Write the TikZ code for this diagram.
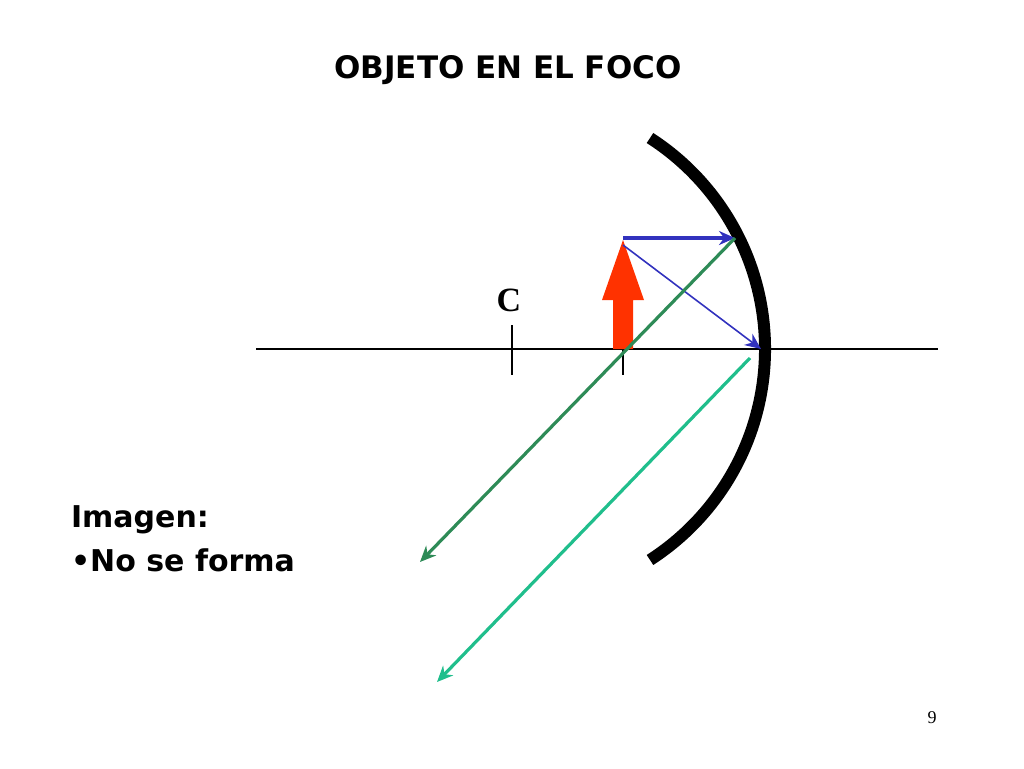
\documentclass[tikz,border=0pt]{standalone}
\usepackage{fontspec}
\setmainfont{DejaVu Sans}
\newfontfamily\serifbold{Liberation Serif}
\usetikzlibrary{arrows.meta}
\definecolor{raydark}{RGB}{46,139,87}
\definecolor{raylight}{RGB}{32,190,140}
\definecolor{rayblue}{RGB}{50,50,190}
\definecolor{objred}{RGB}{255,50,0}
\tikzset{
	ray/.style={line width=1.6pt, -{Stealth[length=8pt,width=7pt]}},
	tick/.style={line width=0.6pt},
	label/.style={font=\bfseries\fontsize{15}{18}\selectfont, anchor=west}
}
\begin{document}
\begin{tikzpicture}[x=0.5pt,y=-0.5pt]
	\useasboundingbox (0,0) rectangle (1024,768);
	\node[font=\bfseries\fontsize{15.5}{18}\selectfont] (title) at (508,70) {OBJETO EN EL FOCO};
	% eje y marcas
	\coordinate (axl) at (256,349);
	\coordinate (axr) at (938,349);
	\draw[tick] (axl) -- (axr);
	\draw[tick] (512,325) -- (512,375);
	\draw[tick] (623,349) -- (623,375);
	\node[font=\serifbold\bfseries\fontsize{17}{18}\selectfont] (C) at (509,300) {C};
	% espejo
	\draw[line width=6pt] (650,138) arc[start angle=-57.2, end angle=57.2, radius=251];
	% objeto
	\fill[objred] (613,349) -- (613,300) -- (602,300) -- (623,240) -- (644,300) -- (633,300) -- (633,349) -- cycle;
	% rayos
	\coordinate (top) at (623,238);
	\coordinate (hit) at (735,238);
	\coordinate (vert) at (761,349);
	\coordinate (out1) at (420,562);
	\coordinate (ref) at (750,358);
	\coordinate (out2) at (437,682);
	\draw[ray, rayblue, line width=2pt] (top) -- (hit);
	\draw[ray, rayblue, line width=0.8pt] (623,245) -- (vert);
	\draw[ray, raydark] (hit) -- (out1);
	\draw[ray, raylight] (ref) -- (out2);
	\node[label] (img) at (64,520) {Imagen:};
	\node[label] (nf) at (64,560) {•No se forma};
	\node[font=\serifbold\fontsize{9}{10}\selectfont] (pg) at (932,718) {9};
\end{tikzpicture}
\end{document}
